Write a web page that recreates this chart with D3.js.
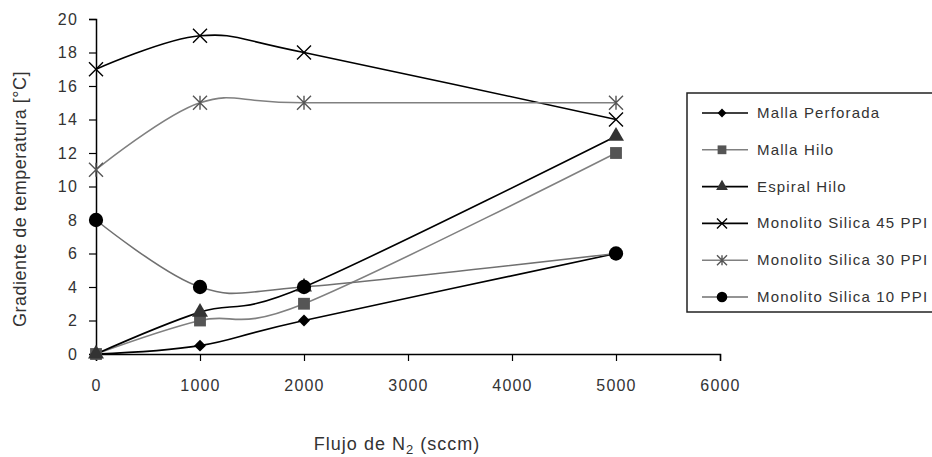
<!DOCTYPE html>
<html>
<head>
<meta charset="utf-8">
<script src="https://cdn.jsdelivr.net/npm/d3@7"></script>
<style>
  body { margin: 0; background: #fff; }
  svg { display: block; font-family: "Liberation Sans", Arial, sans-serif; }
</style>
</head>
<body>
<div id="chart"></div>
<script>
// flow of N2 (sccm)
const flows = [0, 1000, 2000, 5000]
const seriesNames = ["Malla Perforada", "Malla Hilo", "Espiral Hilo",
    "Monolito Silica 45 PPI", "Monolito Silica 30 PPI", "Monolito Silica 10 PPI"]
const mallaPerforada = [0, 0.5, 2, 6]
const mallaHilo = [0, 2, 3, 12]
const espiralHilo = [0, 2.5, 4, 13]
const silica45 = [17, 19, 18, 14]
const silica30 = [11, 15, 15, 15]
const silica10 = [8, 4, 4, 6]
const xTicks = [0, 1000, 2000, 3000, 4000, 5000, 6000]
const yTicks = [0, 2, 4, 6, 8, 10, 12, 14, 16, 18, 20]

const width = 932, height = 457
const margin = { left: 96, top: 19, right: 212, bottom: 103 }

const svg = d3.select('#chart').append('svg')
    .attr('width', width)
    .attr('height', height)

const x = d3.scaleLinear().domain([0, 6000]).range([margin.left, width - margin.right])
const y = d3.scaleLinear().domain([0, 20]).range([height - margin.bottom, margin.top])

const styles = [
    { line: '#000', fill: '#000', symbol: d3.symbolDiamond2, size: 90 },
    { line: '#808080', fill: '#555', symbol: d3.symbolSquare, size: 140 },
    { line: '#000', fill: '#333', symbol: d3.symbolTriangle, size: 110 },
    { line: '#000', fill: 'none', symbol: 'x', size: 7 },
    { line: '#808080', fill: 'none', symbol: 'star', size: 7 },
    { line: '#707070', fill: '#000', symbol: d3.symbolCircle, size: 160 },
]
const values = [mallaPerforada, mallaHilo, espiralHilo, silica45, silica30, silica10]
const series = seriesNames.map((name, i) => ({
    name: name,
    style: styles[i],
    points: flows.map((f, j) => ({ x: f, y: values[i][j] }))
}))

// axes
svg.append('g')
    .attr('transform', `translate(0, ${y(0)})`)
    .call(d3.axisBottom(x).tickValues(xTicks).tickSize(7).tickPadding(19).tickFormat(d3.format('d')))
svg.append('g')
    .attr('transform', `translate(${x(0)}, 0)`)
    .call(d3.axisLeft(y).tickValues(yTicks).tickSize(7).tickPadding(11))

svg.selectAll('.domain').attr('stroke', '#000').attr('stroke-width', 1.5)
svg.selectAll('.tick line').attr('stroke', '#000').attr('stroke-width', 1.2)
svg.selectAll('.tick text')
    .attr('fill', '#333')
    .style('font-size', '16px')
    .style('letter-spacing', '1.2px')

// axis titles
svg.append('text')
    .attr('transform', `translate(26, 199) rotate(-90)`)
    .attr('text-anchor', 'middle')
    .attr('fill', '#333')
    .style('font-size', '18px')
    .style('letter-spacing', '0.5px')
    .text('Gradiente de temperatura [°C]')

const xTitle = svg.append('text')
    .attr('x', 397)
    .attr('y', 450)
    .attr('text-anchor', 'middle')
    .attr('fill', '#333')
    .style('font-size', '18px')
    .style('letter-spacing', '1px')
xTitle.append('tspan').text('Flujo de N')
xTitle.append('tspan').attr('dy', 4).style('font-size', '13px').text('2')
xTitle.append('tspan').attr('dy', -4).text(' (sccm)')

// smoothed lines like the spreadsheet chart
const line = d3.line()
    .x(d => x(d.x))
    .y(d => y(d.y))
    .curve(d3.curveCatmullRom.alpha(0))

function drawMarker(g, st) {
    if (st.symbol === 'x' || st.symbol === 'star') {
        const s = st.size
        let p = `M${-s},${-s}L${s},${s}M${-s},${s}L${s},${-s}`
        if (st.symbol === 'star') p += `M0,${-s}L0,${s}`
        g.append('path').attr('d', p).attr('stroke', st.line === '#808080' ? '#555' : '#000')
            .attr('stroke-width', 1.4).attr('fill', 'none')
    } else {
        g.append('path').attr('d', d3.symbol().type(st.symbol).size(st.size)())
            .attr('fill', st.fill)
    }
}

series.forEach(s => {
    svg.append('path')
        .datum(s.points)
        .attr('d', line)
        .attr('fill', 'none')
        .attr('stroke', s.style.line)
        .attr('stroke-width', 1.6)
})
series.forEach(s => {
    s.points.forEach(p => {
        const g = svg.append('g').attr('transform', `translate(${x(p.x)}, ${y(p.y)})`)
        drawMarker(g, s.style)
    })
})

// legend
const legend = svg.append('g').attr('transform', 'translate(687, 93)')
legend.append('rect')
    .attr('width', 270)
    .attr('height', 219)
    .attr('fill', '#fff')
    .attr('stroke', '#222')
    .attr('stroke-width', 1.5)

series.forEach((s, i) => {
    const row = legend.append('g').attr('transform', `translate(0, ${20 + i * 36.8})`)
    row.append('line')
        .attr('x1', 15).attr('x2', 61)
        .attr('stroke', s.style.line)
        .attr('stroke-width', 1.6)
    const mk = row.append('g').attr('transform', 'translate(35, 0)')
    const small = Object.assign({}, s.style)
    if (typeof small.symbol !== 'string') small.size = small.size * 0.55
    else small.size = 5
    drawMarker(mk, small)
    row.append('text')
        .attr('x', 70)
        .attr('y', 5)
        .attr('fill', '#333')
        .style('font-size', '15px')
        .style('letter-spacing', '1.15px')
        .text(s.name)
})
</script>
</body>
</html>
